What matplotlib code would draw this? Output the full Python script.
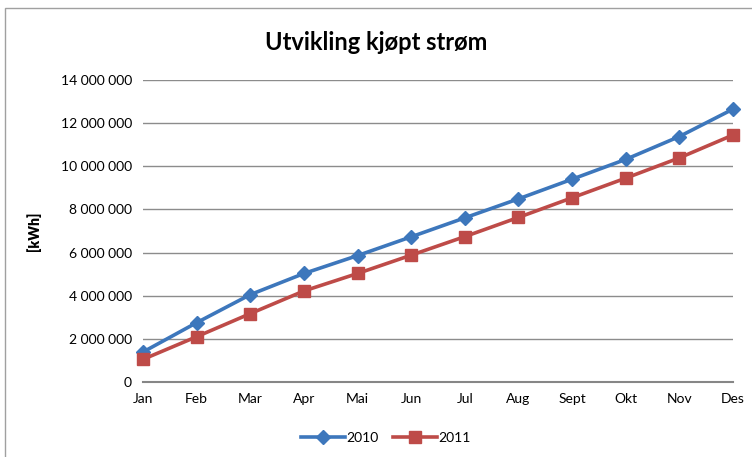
import matplotlib.pyplot as plt
from matplotlib.ticker import FuncFormatter
from matplotlib.patches import Rectangle

months = ['Jan', 'Feb', 'Mar', 'Apr', 'Mai', 'Jun', 'Jul', 'Aug', 'Sept', 'Okt', 'Nov', 'Des']
kwh_2010 = [1.39e6, 2.75e6, 4.05e6, 5.03e6, 5.86e6, 6.73e6, 7.61e6, 8.49e6, 9.40e6, 10.32e6, 11.38e6, 12.65e6]
kwh_2011 = [1.05e6, 2.10e6, 3.17e6, 4.22e6, 5.03e6, 5.88e6, 6.74e6, 7.63e6, 8.54e6, 9.45e6, 10.39e6, 11.45e6]

plt.rcParams['font.family'] = ['Lato', 'DejaVu Sans']

fig = plt.figure(figsize=(7.52, 4.57), dpi=100)
ax = fig.add_axes([143 / 752, 1 - 382 / 457, 590 / 752, 302 / 457])

x = range(len(months))
ax.plot(x, kwh_2010, color='#3D77BC', lw=2.6, marker='D', ms=7, label='2010', clip_on=False, zorder=3)
ax.plot(x, kwh_2011, color='#BE4B48', lw=2.6, marker='s', ms=8, label='2011', clip_on=False, zorder=3)

ax.set_xlim(0, 11)
ax.set_ylim(0, 14e6)
ax.set_yticks(range(0, 14000001, 2000000))
ax.yaxis.set_major_formatter(FuncFormatter(lambda v, p: f"{int(v):,}".replace(',', ' ')))
ax.set_xticks(list(x))
ax.set_xticklabels(months)
ax.tick_params(length=0, labelsize=10, pad=8)
ax.grid(axis='y', color='#8c8c8c', lw=1)
ax.set_axisbelow(True)
for s in ['top', 'right', 'left']:
    ax.spines[s].set_visible(False)
ax.spines['bottom'].set_color('#868686')
ax.spines['bottom'].set_linewidth(1.5)

ax.set_ylabel('[kWh]', fontweight='heavy', fontsize=10, labelpad=14)
fig.text(0.5, 1 - 43 / 457, 'Utvikling kjøpt strøm', ha='center', va='center',
         fontsize=17, fontweight='bold')

fig.legend(loc='center', bbox_to_anchor=(386 / 752, 1 - 438 / 457), ncol=2, frameon=False,
           fontsize=10, handlelength=3.2, columnspacing=1.0, handletextpad=0.1)

fig.patches.append(Rectangle((5 / 752, -0.1), 1.2, 1 - 8 / 457 + 0.1, transform=fig.transFigure,
                             fill=False, edgecolor='#a0a0a0', lw=1))

plt.savefig('out.png', dpi=100)
